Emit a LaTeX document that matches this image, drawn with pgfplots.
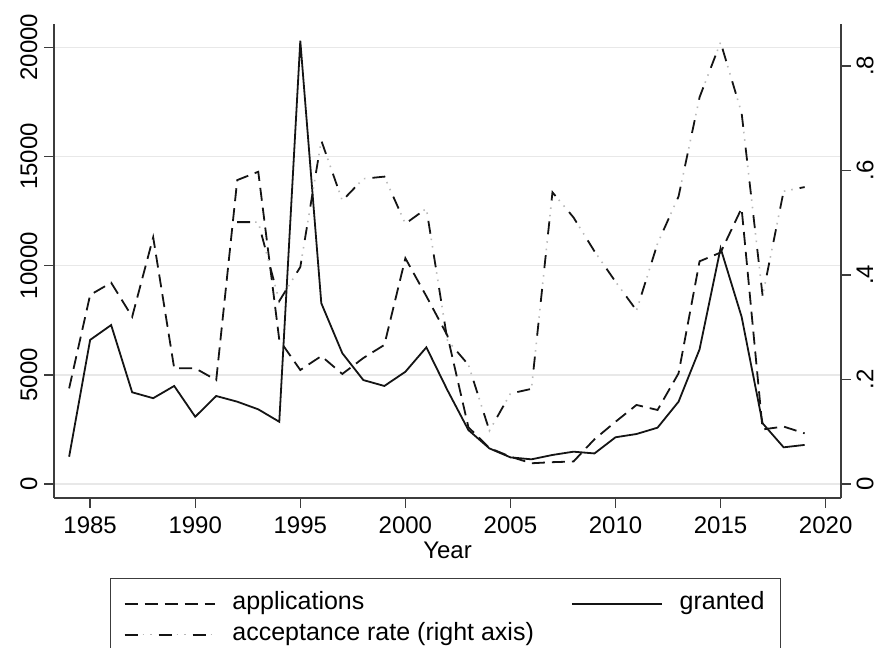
\documentclass[border=0pt]{standalone}
\usepackage{fontspec}
\setmainfont{Liberation Sans}
\usepackage{pgfplots}
\pgfplotsset{compat=1.18}

\definecolor{gridgray}{HTML}{E8E8E8}
\definecolor{axgray}{HTML}{3C3C3C}
\definecolor{ink}{HTML}{141414}

\newcommand{\bigfont}{\fontsize{24}{28.8}\selectfont}
\newcommand{\legfont}{\fontsize{25}{30}\selectfont}

\tikzset{
  apps/.style={ink, line width=1.8pt, dash pattern=on 13pt off 7pt},
  granted/.style={ink, line width=1.8pt},
  accdash/.style={ink, line width=1.8pt, dash pattern=on 13pt off 21pt},
  accdots/.style={gray!55, line width=1.6pt, dash pattern=on 1.5pt off 6pt on 1.5pt off 25pt, dash phase=-18pt},
}

\pgfplotsset{
  base/.style={
    scale only axis, width=787pt, height=474pt,
    xmin=1983.28, xmax=2020.73,
    xtick={1985,1990,...,2020},
    tick align=outside, major tick length=10pt,
    tick style={line width=1.4pt, axgray},
    axis line style={line width=1.4pt, axgray},
    ticklabel style={font=\bigfont},
    xticklabel style={yshift=-5pt},
    scaled y ticks=false,
    /pgf/number format/assume math mode=true,
    /pgf/number format/1000 sep={},
  }
}

\begin{document}
\begin{tikzpicture}
\begin{axis}[base,
  ymin=-641, ymax=21068,
  ytick={0,5000,...,20000},
  yticklabel style={rotate=90, anchor=south, yshift=3pt},
  axis x line*=bottom, axis y line*=left,
  ymajorgrids, grid style={gridgray, line width=1.6pt},
  xlabel={Year}, xlabel style={font=\bigfont, yshift=-2pt},
]
% applications
\addplot[apps] coordinates {
(1984,4380) (1985,8660) (1986,9220) (1987,7660) (1988,11300) (1989,5300)
(1990,5300) (1991,4760) (1992,13920) (1993,14300) (1994,6600) (1995,5220)
(1996,5860) (1997,5040) (1998,5770) (1999,6370) (2000,10340) (2001,8600)
(2002,6800) (2003,2600) (2004,1650) (2005,1250) (2006,950) (2007,1000)
(2008,1030) (2009,2050) (2010,2850) (2011,3620) (2012,3390) (2013,5070)
(2014,10200) (2015,10600) (2016,12630) (2017,2500) (2018,2630) (2019,2320)
};
% granted
\addplot[granted] coordinates {
(1984,1250) (1985,6600) (1986,7280) (1987,4200) (1988,3930) (1989,4490)
(1990,3080) (1991,4030) (1992,3770) (1993,3420) (1994,2850) (1995,20300)
(1996,8280) (1997,5990) (1998,4760) (1999,4490) (2000,5140) (2001,6260)
(2002,4300) (2003,2470) (2004,1630) (2005,1220) (2006,1130) (2007,1330)
(2008,1480) (2009,1400) (2010,2140) (2011,2290) (2012,2580) (2013,3770)
(2014,6170) (2015,10800) (2016,7660) (2017,2780) (2018,1680) (2019,1790)
};
\end{axis}

\begin{axis}[base,
  ymin=-0.0268, ymax=0.880,
  axis x line=none, axis y line*=right,
  ytick={0,0.2,0.4,0.6,0.8},
  yticklabels={0,.2,.4,.6,.8},
  yticklabel style={rotate=90, anchor=north, yshift=-2pt},
  legend columns=2,
  legend cell align=left,
  legend image code/.code={\draw[#1] (0pt,0pt) -- (90pt,0pt);},
  legend style={at={(0,0)}, anchor=north west, xshift=56pt, yshift=-80pt,
    draw=axgray, line width=1.2pt, font=\legfont,
    inner xsep=13pt, inner ysep=10pt, row sep=1pt,
    nodes={inner sep=3pt, text height=18pt, text depth=6pt},
    /tikz/every odd column/.append style={column sep=14pt},
    /tikz/every even column/.append style={column sep=34pt}},
]
\addlegendimage{apps}\addlegendentry{applications}
\addlegendimage{granted}\addlegendentry{granted}
% acceptance rate
\addplot[accdash, legend image code/.code={
    \draw[accdash] (0pt,0pt) -- (90pt,0pt);
    \draw[accdots] (0pt,0pt) -- (90pt,0pt);}] coordinates {
(1992,0.501) (1993,0.501) (1994,0.35) (1995,0.415) (1996,0.657) (1997,0.542)
(1998,0.584) (1999,0.588) (2000,0.498) (2001,0.527) (2002,0.275) (2003,0.228)
(2004,0.102) (2005,0.173) (2006,0.182) (2007,0.558) (2008,0.51) (2009,0.445)
(2010,0.387) (2011,0.332) (2012,0.46) (2013,0.55) (2014,0.74) (2015,0.845)
(2016,0.71) (2017,0.36) (2018,0.56) (2019,0.568)
};
\addlegendentry{acceptance rate (right axis)}
\addplot[accdots, forget plot] coordinates {
(1992,0.501) (1993,0.501) (1994,0.35) (1995,0.415) (1996,0.657) (1997,0.542)
(1998,0.584) (1999,0.588) (2000,0.498) (2001,0.527) (2002,0.275) (2003,0.228)
(2004,0.102) (2005,0.173) (2006,0.182) (2007,0.558) (2008,0.51) (2009,0.445)
(2010,0.387) (2011,0.332) (2012,0.46) (2013,0.55) (2014,0.74) (2015,0.845)
(2016,0.71) (2017,0.36) (2018,0.56) (2019,0.568)
};
\coordinate (pa) at (rel axis cs:0,0);
\coordinate (pb) at (rel axis cs:1,1);
\end{axis}
\pgfresetboundingbox
\useasboundingbox ([shift={(-54pt,-150pt)}]pa) rectangle ([shift={(41pt,24pt)}]pb);
\end{tikzpicture}
\end{document}
